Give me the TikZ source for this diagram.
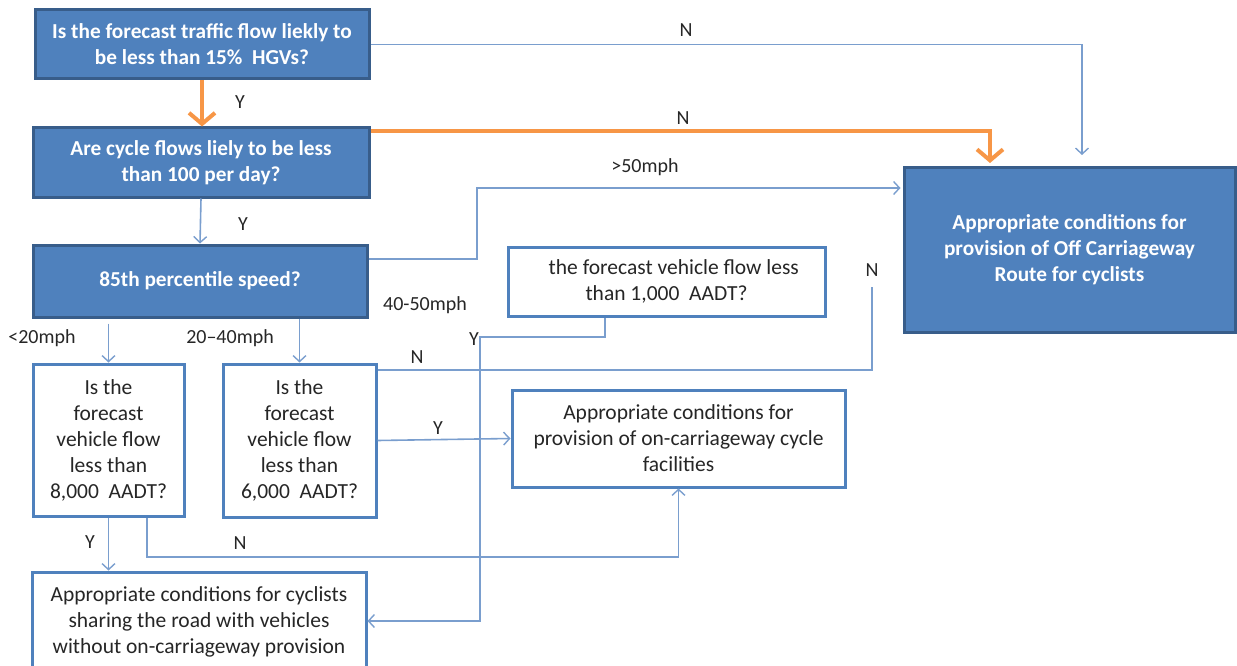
\documentclass[tikz,border=0pt]{standalone}
\usepackage{fontspec}
\setmainfont{Carlito}
\usetikzlibrary{arrows.meta}
\definecolor{boxblue}{RGB}{79,129,189}
\definecolor{boxedge}{RGB}{56,93,138}
\definecolor{linkblue}{RGB}{122,158,206}
\definecolor{flowor}{RGB}{247,150,70}
\begin{document}
\begin{tikzpicture}[x=1pt,y=-1pt,font=\fontsize{21.5}{26}\selectfont,line join=miter,
  qbox/.style={draw=boxedge,fill=boxblue,line width=3pt,text=white,align=center,inner sep=0pt,font=\fontsize{21.3}{26}\selectfont\bfseries},
  wbox/.style={draw=boxblue,fill=white,line width=3pt,text=black!85,align=center,inner sep=0pt},
  link/.style={linkblue,line width=1.6pt,-{Straight Barb[length=6pt,width=13pt,line width=1.4pt]}},
  plain/.style={linkblue,line width=1.6pt},
  hot/.style={flowor,line width=4pt,-{Straight Barb[length=11pt,width=26pt,line width=4pt]}},
  lbl/.style={font=\fontsize{20}{22}\selectfont,text=black!85,inner sep=0pt}]
\useasboundingbox (0,0) rectangle (1237,666);
% question boxes
\node[qbox,minimum width=334pt,minimum height=69pt] (hgv) at (202,44.5) {Is the forecast traffic flow liekly to\\be less than 15\%\ \ HGVs?};
\node[qbox,minimum width=336pt,minimum height=69pt] (cyc) at (201,162.5) {Are cycle flows liely to be less\\than 100 per day?};
\node[qbox,minimum width=334pt,minimum height=72pt] (spd) at (200,281) {85th percentile speed?};
\node[qbox,minimum width=331pt,minimum height=164pt] (off) at (1069.5,250) {Appropriate conditions for\\provision of Off Carriageway\\Route for cyclists};
\node[wbox,minimum width=317pt,minimum height=69pt] (thou) at (666.5,281.5) {\ \ \ the forecast vehicle flow less\\than 1,000\ \ AADT?};
\node[wbox,minimum width=151pt,minimum height=152pt] (eight) at (108.5,440) {Is the\\forecast\\vehicle flow\\less than\\8,000\ \ AADT?};
\node[wbox,minimum width=153pt,minimum height=153pt] (six) at (299.5,440.5) {Is the\\forecast\\vehicle flow\\less than\\6,000\ \ AADT?};
\node[wbox,minimum width=333pt,minimum height=97pt] (oncw) at (678.5,438.5) {Appropriate conditions for\\provision of on-carriageway cycle\\facilities};
\node[wbox,minimum width=334pt,minimum height=100pt] (share) at (199,622) {Appropriate conditions for cyclists\\sharing the road with vehicles\\without on-carriageway provision};
% free ends
\coordinate (nend) at (1082,155);
\coordinate (oend) at (990,163);
\coordinate (nstart) at (872,287);
% connectors
\draw[link] (hgv.east) -| (nend);
\draw[hot] (hgv.south) -- (hgv.south |- cyc.north);
\draw[hot,line cap=butt] (cyc.east |- 0,131) -| (oend);
\draw[link] (cyc.south) -- (spd.north);
\draw[link,shorten >=2pt] (spd.east |- 0,259) -- (477,259) |- (off.west |- 0,188);
\draw[link,shorten <=5pt] (spd.south -| eight.north) -- (eight.north);
\draw[link] (spd.south -| six.north) -- (six.north);
\draw[link] (thou.south -| 605,0) |- (480,337) |- (share.east |- 0,621);
\draw[plain] (nstart) |- (six.east |- 0,370);
\draw[link] (six.east) -- (oncw.west);
\draw[link] (eight.south) -- (eight.south |- share.north);
\draw[link] (eight.south -| 147,0) |- (oncw.south |- 0,557) -- (oncw.south);
% labels
\node[lbl] (n1) at (686,30) {N};
\node[lbl] (y1) at (240,102) {Y};
\node[lbl] (n2) at (683,118) {N};
\node[lbl] (s50) at (645,167) {>50mph};
\node[lbl] (y2) at (243,224) {Y};
\node[lbl] (s45) at (425,305) {40-50mph};
\node[lbl] (s20) at (42,338) {<20mph};
\node[lbl] (s24) at (230,338) {20--40mph};
\node[lbl] (n3) at (872,270) {N};
\node[lbl] (y3) at (474,339) {Y};
\node[lbl] (n4) at (417,357) {N};
\node[lbl] (y4) at (438,428) {Y};
\node[lbl] (y5) at (90,542) {Y};
\node[lbl] (n5) at (240,543) {N};
\end{tikzpicture}
\end{document}
